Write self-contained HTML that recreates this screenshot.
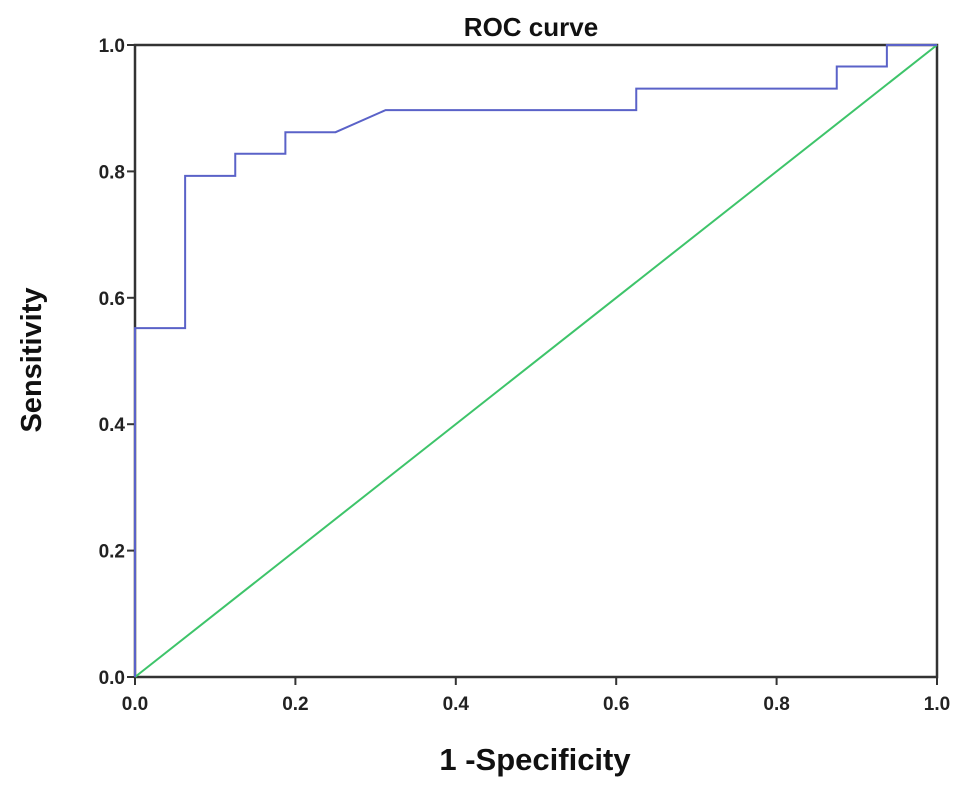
<!DOCTYPE html>
<html><head><meta charset="utf-8"><style>
body{margin:0;background:#fff;}
svg{display:block;font-family:"Liberation Sans",Arial,sans-serif;font-weight:bold;}
</style></head><body>
<svg id="chart" width="969" height="788" viewBox="0 0 969 788" xmlns="http://www.w3.org/2000/svg"></svg>
<script>
const fprValues=[0,0,0.0625,0.0625,0.125,0.125,0.1875,0.1875,0.25,0.3125,0.625,0.625,0.875,0.875,0.9375,0.9375,1];
const tprValues=[0,0.552,0.552,0.793,0.793,0.828,0.828,0.862,0.862,0.897,0.897,0.931,0.931,0.966,0.966,1,1];
const refX=[0,1];
const refY=[0,1];
const tickValues=[0,0.2,0.4,0.6,0.8,1.0];
const tickLabels=["0.0","0.2","0.4","0.6","0.8","1.0"];

const X0=135,X1=937,Y0=677,Y1=45;
const sx=v=>X0+(X1-X0)*v, sy=v=>Y0-(Y0-Y1)*v;
const svg=document.getElementById('chart');
const NS='http://www.w3.org/2000/svg';
function mk(tag,attrs,parent){const e=document.createElementNS(NS,tag);for(const k in attrs)e.setAttribute(k,attrs[k]);(parent||svg).appendChild(e);return e;}

let r=mk('rect',{x:X0,y:Y1,width:X1-X0,height:Y0-Y1,fill:'none',stroke:'#333',"stroke-width":2.5});



tickValues.forEach((v,i)=>{
  let t=mk('line',{x1:sx(v),x2:sx(v),y1:Y0,y2:Y0+8,stroke:'#333',"stroke-width":2});
  
  
  let l=mk('text',{x:sx(v),y:Y0+33,"text-anchor":"middle","font-size":19,fill:'#222'});
  l.textContent=tickLabels[i];
  
  
  let t2=mk('line',{x1:X0-8,x2:X0,y1:sy(v),y2:sy(v),stroke:'#333',"stroke-width":2});
  
  
  let l2=mk('text',{x:X0-10,y:sy(v)+7,"text-anchor":"end","font-size":19,fill:'#222'});
  l2.textContent=tickLabels[i];
  
  
});

let ref=mk('polyline',{points:refX.map((x,i)=>sx(x)+','+sy(refY[i])).join(' '),fill:'none',stroke:'#3ec46a',"stroke-width":2});



let roc=mk('polyline',{points:fprValues.map((x,i)=>sx(x)+','+sy(tprValues[i])).join(' '),fill:'none',stroke:'#5a62c8',"stroke-width":2});



let ti=mk('text',{x:531,y:36,"text-anchor":"middle","font-size":26,fill:'#111'});
ti.textContent='ROC curve';



let xl=mk('text',{x:535,y:770,"text-anchor":"middle","font-size":31,fill:'#111'});
xl.textContent='1 -Specificity';



let yl=mk('text',{x:0,y:0,"text-anchor":"middle","font-size":29,fill:'#111',transform:'translate(41,360) rotate(-90)'});
yl.textContent='Sensitivity';


</script>
</body></html>
